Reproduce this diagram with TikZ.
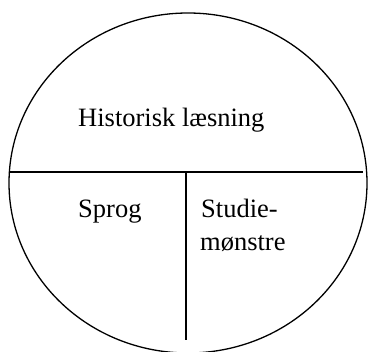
\documentclass[tikz,border=0pt]{standalone}
\usepackage{fontspec}
\setmainfont{Liberation Serif}
\begin{document}
\begin{tikzpicture}[x=1pt,y=-1pt,
  outline/.style={draw=black,line width=1.3pt},
  lbl/.style={anchor=base west,inner sep=0pt,font=\fontsize{26.5}{32}\selectfont}]
\useasboundingbox (0,0) rectangle (369,352);
\draw[outline] (188,183) ellipse [x radius=179, y radius=170];
\coordinate (hl) at (9.4,172);
\coordinate (hr) at (363,172);
\coordinate (vt) at (186,172);
\coordinate (vb) at (186,340);
\draw[outline] (hl) -- (hr);
\draw[outline] (vt) -- (vb);
\node[lbl] (hist) at (78,127) {Historisk læsning};
\node[lbl] (sprog) at (78,218) {Sprog};
\node[lbl] (stud1) at (201,218) {Studie-};
\node[lbl] (stud2) at (200,251) {mønstre};
\end{tikzpicture}
\end{document}
